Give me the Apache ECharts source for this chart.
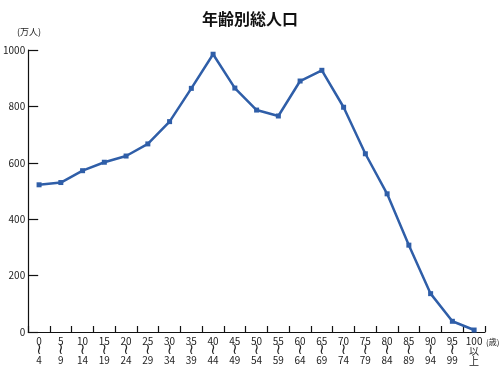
<!DOCTYPE html>
<html><head><meta charset="utf-8">
<script src="https://cdn.jsdelivr.net/npm/echarts@6/dist/echarts.min.js"></script>
<style>html,body{margin:0;padding:0;background:#fff}#c{width:500px;height:375px}</style>
</head><body><div id="c"></div>
<script>
const categories = ['0\n≀\n4','5\n≀\n9','10\n≀\n14','15\n≀\n19','20\n≀\n24','25\n≀\n29','30\n≀\n34','35\n≀\n39','40\n≀\n44','45\n≀\n49','50\n≀\n54','55\n≀\n59','60\n≀\n64','65\n≀\n69','70\n≀\n74','75\n≀\n79','80\n≀\n84','85\n≀\n89','90\n≀\n94','95\n≀\n99','100\n以\n上'];
const population = [522, 530, 572, 602, 624, 667, 746, 864, 985, 865, 787, 766, 890, 928, 797, 632, 490, 308, 136, 38, 7];
const yTicks = [0, 200, 400, 600, 800, 1000];
const FONT = '"Noto Sans CJK JP", "Noto Sans", sans-serif';
const chart = echarts.init(document.getElementById('c'));
chart.setOption({
  animation: false,
  title: { text: '年齢別総人口', left: 'center', top: 6, textStyle: { fontFamily: FONT, fontSize: 16, fontWeight: 'bold', color: '#111' } },
  grid: { left: 26, right: 15, top: 50, bottom: 43 },
  graphic: [
    { type: 'text', left: 17, top: 27, style: { text: '(万人)', font: '9px ' + FONT, fill: '#222' } },
    { type: 'text', left: 486, top: 338, style: { text: '(歳)', font: '8px ' + FONT, fill: '#222' } }
  ],
  xAxis: {
    type: 'category', data: categories, boundaryGap: true,
    axisLine: { lineStyle: { color: '#111', width: 1.2 } },
    axisTick: { show: true, inside: true, length: 6, lineStyle: { color: '#111', width: 1.2 } },
    axisLabel: {
      interval: 0, margin: 4, color: '#222',
      formatter: function (v) {
        const p = v.split('\n');
        const mid = p[1] === '≀' ? '{w|≀}' : '{a|' + p[1] + '}';
        return '{a|' + p[0] + '}\n' + mid + '\n{a|' + p[2] + '}';
      },
      rich: {
        a: { fontFamily: FONT, fontSize: 10, lineHeight: 10, color: '#222' },
        w: { fontFamily: '"DejaVu Sans", sans-serif', fontSize: 15, lineHeight: 9, color: '#222' }
      }
    }
  },
  yAxis: {
    type: 'value', min: yTicks[0], max: yTicks[yTicks.length - 1], interval: 200,
    axisLine: { show: true, lineStyle: { color: '#111', width: 1.2 } },
    axisTick: { show: true, inside: true, length: 10, lineStyle: { color: '#111', width: 1.2 } },
    splitLine: { show: false },
    axisLabel: { margin: 3, fontFamily: FONT, fontSize: 10, color: '#222', formatter: function (v) { return String(v); } }
  },
  series: [{
    type: 'line', data: population,
    lineStyle: { color: '#2f5ea8', width: 2.5 },
    itemStyle: { color: '#2f5ea8' },
    symbol: 'rect', symbolSize: 5, showSymbol: true
  }]
});
</script></body></html>
